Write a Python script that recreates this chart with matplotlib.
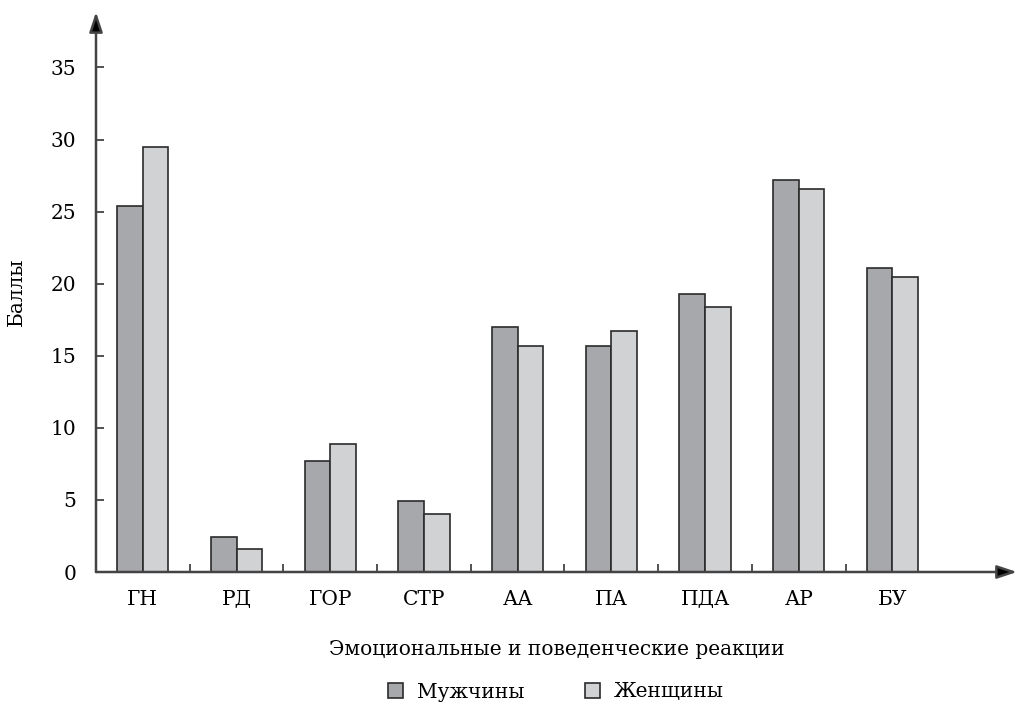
import numpy as np
import matplotlib.pyplot as plt
from matplotlib.patches import Patch

categories = ["ГН", "РД", "ГОР", "СТР", "АА", "ПА", "ПДА", "АР", "БУ"]
men = [25.4, 2.4, 7.7, 4.9, 17.0, 15.7, 19.3, 27.2, 21.1]
women = [29.5, 1.6, 8.9, 4.0, 15.7, 16.7, 18.4, 26.6, 20.5]
series_names = ["Мужчины", "Женщины"]
yticks = [0, 5, 10, 15, 20, 25, 30, 35]

plt.rcParams['font.family'] = ['DejaVu Serif', 'Liberation Serif']
fs = 14.5

dark = "#a7a8ab"
light = "#d1d2d4"
edge = "#2b2b2b"
axis_col = "#444444"

fig = plt.figure(figsize=(10.19, 7.08), dpi=100)
ax = fig.add_axes([96 / 1019, 136 / 708, 921 / 1019, 560 / 708])

x = np.arange(len(categories))
w = 0.273
ax.bar(x - w / 2, men, w, color=dark, edgecolor=edge, linewidth=1.2, zorder=3)
ax.bar(x + w / 2, women, w, color=light, edgecolor=edge, linewidth=1.2, zorder=3)

ax.set_xlim(-0.5, 9.33)
ax.set_ylim(0, 38.85)

for s in ax.spines.values():
    s.set_visible(False)

# axes with arrows
arrow = dict(arrowstyle="-|>,head_length=0.75,head_width=0.25", lw=1.8,
             shrinkA=0, shrinkB=0, fc="black", ec=axis_col, mutation_scale=16)
ax.annotate("", xy=(1, 0), xytext=(0, 0), xycoords="axes fraction", arrowprops=arrow)
ax.annotate("", xy=(0, 1), xytext=(0, 0), xycoords="axes fraction", arrowprops=arrow)

ax.set_yticks(yticks)
ax.tick_params(axis="y", direction="in", length=6, width=1.2, color="#333333",
               pad=14, labelsize=fs)

# boundary ticks (major) and category labels (minor)
ax.set_xticks(x[:-1] + 0.5)
ax.set_xticklabels([])
ax.tick_params(axis="x", which="major", direction="in", length=6, width=1.2,
               color="#333333")
ax.set_xticks(x, minor=True)
ax.set_xticklabels(categories, minor=True)
ax.tick_params(axis="x", which="minor", length=0, pad=13, labelsize=fs)

ax.set_ylabel("Баллы", fontsize=fs, labelpad=18)
ax.set_xlabel("Эмоциональные и поведенческие реакции", fontsize=fs, labelpad=22)

handles = [Patch(facecolor=dark, edgecolor=edge, linewidth=1.2),
           Patch(facecolor=light, edgecolor=edge, linewidth=1.2)]
fig.legend(handles, series_names, loc="center", bbox_to_anchor=(556 / 1019, 1 - 692 / 708),
           ncol=2, frameon=False, fontsize=fs, handlelength=0.75, handleheight=0.75,
           handletextpad=0.7, columnspacing=3.0)

fig.savefig("out.png", dpi=100)
